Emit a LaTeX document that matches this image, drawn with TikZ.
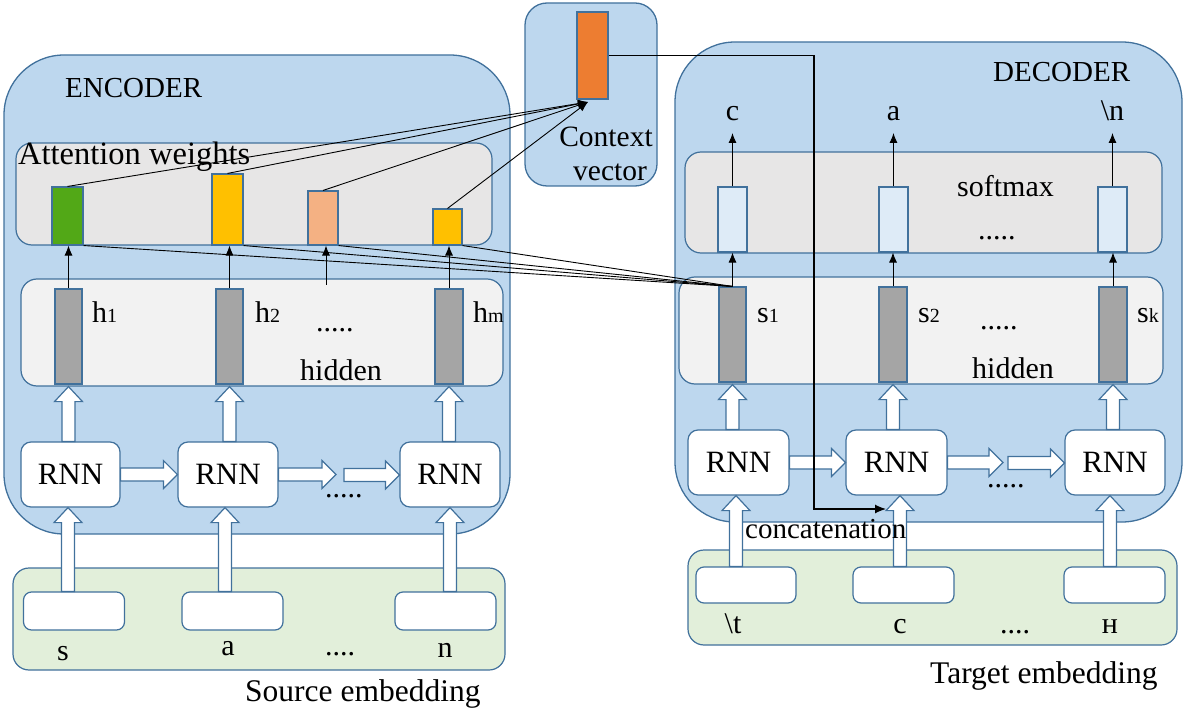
\documentclass[tikz,border=0pt]{standalone}
\usepackage{fontspec}
\setmainfont{Liberation Serif}
\usetikzlibrary{arrows.meta,calc}

\definecolor{outerblue}{HTML}{BDD7EE}
\definecolor{bord}{HTML}{41719C}
\definecolor{attgray}{HTML}{E7E6E6}
\definecolor{hidgray}{HTML}{F2F2F2}
\definecolor{embgreen}{HTML}{E2EFDA}
\definecolor{hbar}{HTML}{A5A5A5}
\definecolor{wgreen}{HTML}{52A817}
\definecolor{wyellow}{HTML}{FFC000}
\definecolor{wpeach}{HTML}{F4B183}
\definecolor{corange}{HTML}{ED7D31}
\definecolor{sbar}{HTML}{DEEBF7}

\newcommand\setfs[1]{\fontsize{#1}{#1}\selectfont}

% hollow block arrow pointing up: start point, node whose y gives the tip
\newcommand\upblock[2]{%
  \coordinate (tmpb) at (#1);
  \coordinate (tmpt) at (tmpb |- #2);
  \draw[blockarr] ($(tmpb)+(-6.5,0)$) -- ($(tmpt)+(-6.5,15)$) -- ($(tmpt)+(-14,15)$)
    -- (tmpt) -- ($(tmpt)+(14,15)$) -- ($(tmpt)+(6.5,15)$) -- ($(tmpb)+(6.5,0)$) -- cycle;}
% hollow block arrow pointing right
\newcommand\rblock[2]{%
  \coordinate (tmpb) at (#1);
  \coordinate (tmpt) at (#2 |- tmpb);
  \draw[blockarr] ($(tmpb)+(0,-6.5)$) -- ($(tmpt)+(-14,-6.5)$) -- ($(tmpt)+(-14,-14)$)
    -- (tmpt) -- ($(tmpt)+(-14,14)$) -- ($(tmpt)+(-14,6.5)$) -- ($(tmpb)+(0,6.5)$) -- cycle;}

\begin{document}
\begin{tikzpicture}[x=1pt,y=-1pt,
  outer/.style={draw=bord, fill=outerblue, line width=1.3pt, rounded corners=60pt, inner sep=0pt},
  panel/.style={draw=bord, line width=1.2pt, rounded corners=16pt, inner sep=0pt},
  bar/.style={draw=bord, line width=1.1pt, inner sep=0pt},
  rnn/.style={draw=bord, fill=white, line width=1.2pt, rounded corners=10pt,
    minimum width=100pt, minimum height=65pt, inner sep=0pt, font=\setfs{31}},
  emb/.style={draw=bord, fill=white, line width=1.2pt, rounded corners=8pt,
    minimum width=101pt, minimum height=38pt, inner sep=0pt},
  blockarr/.style={draw=bord, fill=white, line width=1.2pt, line join=miter},
  thin/.style={black, line width=0.9pt},
  tip/.style={-{Latex[length=10pt,width=8pt]}},
  txt/.style={inner sep=0pt, text depth=0pt, font=\setfs{30}},
]
\useasboundingbox (0,0) rectangle (1186,711);

% ---------- large containers ----------
\node[outer, minimum width=506pt, minimum height=479pt] (enc) at (257,294.5) {};
\node[outer, minimum width=507pt, minimum height=480pt] (dec) at (928.5,282) {};
\node[outer, rounded corners=22pt, minimum width=132pt, minimum height=183pt] (ctx) at (591,94.5) {};

% ---------- panels ----------
\node[panel, fill=attgray, minimum width=476pt, minimum height=102pt] (attp) at (254,194) {};
\node[panel, fill=hidgray, minimum width=482pt, minimum height=107pt] (ehid) at (262,332.5) {};
\node[panel, fill=embgreen, minimum width=492pt, minimum height=102pt] (semb) at (259,619) {};
\node[panel, fill=attgray, minimum width=477pt, minimum height=101pt] (soft) at (923.5,202.5) {};
\node[panel, fill=hidgray, minimum width=484pt, minimum height=107pt] (dhid) at (921,330.5) {};
\node[panel, fill=embgreen, minimum width=489pt, minimum height=95pt] (temb) at (932.5,597.5) {};

% ---------- titles ----------
\node[txt, font=\setfs{29}, anchor=base west] (tenc) at (65,98) {ENCODER};
\node[txt, font=\setfs{29}, anchor=base west] (tdec) at (993,82) {DECODER};
\node[txt, font=\setfs{32.5}, anchor=base west] (tatt) at (18,165) {Attention weights};
\node[txt, font=\setfs{29.5}, anchor=base] (tctx1) at (606,147) {Context};
\node[txt, font=\setfs{29.5}, anchor=base] (tctx2) at (610,181) {vector};
\node[txt, font=\setfs{31.5}, anchor=base west] (tsrc) at (245,701) {Source embedding};
\node[txt, font=\setfs{31.5}, anchor=base west] (ttgt) at (930,683) {Target embedding};

% ---------- attention weights ----------
\node[bar, fill=wgreen, minimum width=31pt, minimum height=58pt] (a1) at (67.5,216) {};
\node[bar, fill=wyellow, minimum width=31pt, minimum height=71pt] (a2) at (227.5,209.5) {};
\node[bar, fill=wpeach, minimum width=30pt, minimum height=54pt] (a3) at (323,218) {};
\node[bar, fill=wyellow, minimum width=29pt, minimum height=36pt] (a4) at (447.5,227) {};

% ---------- context vector ----------
\node[bar, fill=corange, minimum width=31pt, minimum height=87pt] (cbar) at (592.5,55.5) {};
\coordinate (ctxin) at (588,102);

% ---------- encoder hidden states ----------
\node[bar, fill=hbar, minimum width=27pt, minimum height=95pt] (h1) at (68.5,336.5) {};
\node[bar, fill=hbar, minimum width=27pt, minimum height=95pt] (h2) at (229.5,336.5) {};
\node[bar, fill=hbar, minimum width=28pt, minimum height=95pt] (hm) at (449,336.5) {};
\node[txt, anchor=base west] (lh1) at (92,323) {h{\setfs{20}1}};
\node[txt, anchor=base west] (lh2) at (255,323) {h{\setfs{20}2}};
\node[txt, anchor=base west] (lhm) at (473,323) {h{\setfs{20}m}};
\node[txt, anchor=base west] (ehdots) at (316,331) {.....};
\node[txt, anchor=base west] (ehtxt) at (300,380) {hidden};
\coordinate (hmid) at (326,285);

% ---------- decoder softmax ----------
\node[bar, fill=sbar, minimum width=29pt, minimum height=65pt] (o1) at (732.5,219.5) {};
\node[bar, fill=sbar, minimum width=29pt, minimum height=65pt] (o2) at (893.5,219.5) {};
\node[bar, fill=sbar, minimum width=29pt, minimum height=65pt] (o3) at (1112.5,219.5) {};
\node[txt, anchor=base west] (tsoft) at (957,197) {softmax};
\node[txt, anchor=base west] (sdots) at (978,240) {.....};
\node[txt, inner ysep=12pt, anchor=south] (y1) at (732.5,133) {с};
\node[txt, inner ysep=12pt, anchor=south] (y2) at (893.5,133) {а};
\node[txt, inner ysep=12pt, anchor=south] (y3) at (1112.5,133) {\textbackslash n};

% ---------- decoder hidden states ----------
\node[bar, fill=hbar, minimum width=27pt, minimum height=95pt] (s1) at (732.5,334.5) {};
\node[bar, fill=hbar, minimum width=28pt, minimum height=95pt] (s2) at (893,334.5) {};
\node[bar, fill=hbar, minimum width=28pt, minimum height=95pt] (sk) at (1113,334.5) {};
\node[txt, anchor=base west] (ls1) at (757,323) {s{\setfs{20}1}};
\node[txt, anchor=base west] (ls2) at (918,323) {s{\setfs{20}2}};
\node[txt, anchor=base west] (lsk) at (1137,323) {s{\setfs{20}k}};
\node[txt, anchor=base west] (dhdots) at (980,330) {.....};
\node[txt, anchor=base west] (dhtxt) at (972,378) {hidden};

% ---------- embeddings ----------
\node[emb] (e1) at (74,611) {};
\node[emb] (e2) at (232.5,611) {};
\node[emb] (e3) at (445.5,611) {};
\node[txt, anchor=base] (ls) at (63,660) {s};
\node[txt, anchor=base] (la) at (228,655) {a};
\node[txt, anchor=base west] (ledots) at (325,655) {....};
\node[txt, anchor=base] (ln) at (445,657) {n};

\node[emb, minimum width=100pt, minimum height=36pt] (d1) at (746,585) {};
\node[emb, minimum height=36pt] (d2) at (903.5,585) {};
\node[emb, minimum height=36pt] (d3) at (1114.5,585) {};
\node[txt, anchor=base] (lt) at (733,633) {\textbackslash t};
\node[txt, anchor=base] (lc) at (900,633) {с};
\node[txt, anchor=base west] (lddots) at (1000,633) {....};
\node[txt, anchor=base] (lH) at (1110,633) {н};

% ---------- RNN cells ----------
\node[rnn, minimum width=99pt] (r1) at (70.5,474.5) {RNN};
\node[rnn] (r2) at (228,474.5) {RNN};
\node[rnn] (r3) at (450,474.5) {RNN};
\node[rnn, minimum width=101pt] (q1) at (738.5,462.5) {RNN};
\node[rnn, minimum width=101pt] (q2) at (896.5,462.5) {RNN};
\node[rnn] (q3) at (1115,462.5) {RNN};
\node[txt, anchor=base west] (rdots1) at (325,497) {.....};
\node[txt, anchor=base west] (rdots2) at (987,487) {.....};

% ---------- block arrows: embeddings -> RNN ----------
\upblock{$(e1.north)+(-6,0)$}{r1.south}
\upblock{$(e2.north)+(-7.5,0)$}{r2.south}
\upblock{$(e3.north)+(4.5,0)$}{r3.south}
\upblock{$(d1.north)+(-10,0)$}{q1.south}
\upblock{$(d2.north)+(-3.5,0)$}{q2.south}
\upblock{$(d3.north)+(-4.5,0)$}{q3.south}

% ---------- block arrows: RNN -> hidden ----------
\upblock{$(r1.north-|h1.north)$}{ehid.south}
\upblock{$(r2.north-|h2.north)$}{ehid.south}
\upblock{$(r3.north-|hm.north)$}{ehid.south}
\upblock{$(q1.north-|s1.north)$}{dhid.south}
\upblock{$(q2.north-|s2.north)$}{dhid.south}
\upblock{$(q3.north-|sk.north)$}{dhid.south}

% ---------- block arrows: recurrence ----------
\coordinate (eg1) at (336,475);
\coordinate (eg2) at (344,475);
\coordinate (dg1) at (1003,463);
\coordinate (dg2) at (1008,463);
\rblock{r1.east}{r2.west}
\rblock{r2.east}{eg1}
\rblock{eg2}{r3.west}
\rblock{q1.east}{q2.west}
\rblock{q2.east}{dg1}
\rblock{dg2}{q3.west}

% ---------- hidden -> attention weights ----------
\draw[thin, tip] (h1.north) -- (h1.north |- a1.south);
\draw[thin, tip] (h2.north) -- (h2.north |- a2.south);
\draw[thin, tip] (hmid) -- (hmid |- a3.south);
\draw[thin, tip] (hm.north) -- (hm.north |- a4.south);

% ---------- decoder state s1 scores every encoder state ----------
\draw[thin] (s1.north) -- (a1.south east);
\draw[thin] (s1.north) -- (a2.south east);
\draw[thin] (s1.north) -- (a3.south east);
\draw[thin] (s1.north) -- (a4.south east);

% ---------- weights -> context vector ----------
\draw[thin, tip] (a1.north) -- (ctxin);
\draw[thin, tip] (a2.north) -- (ctxin);
\draw[thin, tip] (a3.north) -- (ctxin);
\draw[thin, tip] (a4.north) -- (ctxin);

% ---------- decoder hidden -> softmax -> outputs ----------
\draw[thin, tip] (s1.north) -- (s1.north |- o1.south);
\draw[thin, tip] (s2.north) -- (s2.north |- o2.south);
\draw[thin, tip] (sk.north) -- (sk.north |- o3.south);
\draw[thin, tip] (o1.north) -- (y1.south);
\draw[thin, tip] (o2.north) -- (y2.south);
\draw[thin, tip] (o3.north) -- (y3.south);

% ---------- context vector concatenated with decoder input ----------
\coordinate (cc1) at (814,509);
\coordinate (cc2) at (886,509);
\draw[black, line width=1.2pt, -{Latex[length=11pt,width=9pt]}] (cbar.east) -| (cc1) -- (cc2);
\node[txt, font=\setfs{29}, anchor=base west] (tcat) at (745,538) {concatenation};

\end{tikzpicture}
\end{document}
